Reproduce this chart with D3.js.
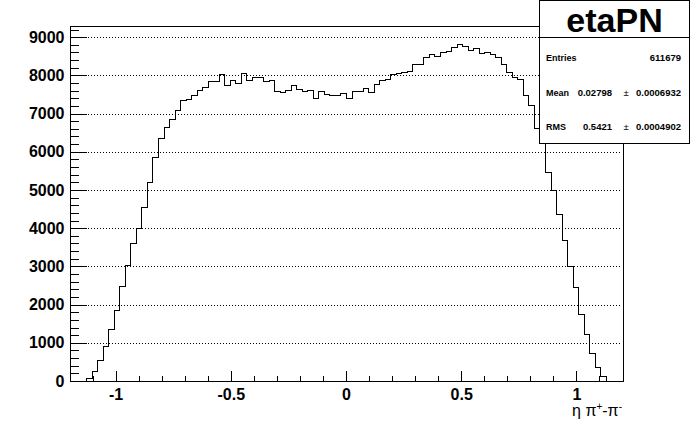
<!DOCTYPE html>
<html><head><meta charset="utf-8">
<script src="https://cdn.jsdelivr.net/npm/d3@7"></script>
<style>
html,body{margin:0;padding:0;background:#fff;}
svg{display:block;font-family:"Liberation Sans",Arial,Helvetica,sans-serif;}
</style></head>
<body>
<svg id="c" width="692" height="444"></svg>
<script>
// ---- data ----
const xMin = -1.2, xMax = 1.2, nBins = 100;
const counts = [
  0,0,0,80,262,550,916,1361,1850,2487,
  3037,3613,4005,4546,5209,5873,6370,6649,6867,7103,
  7350,7377,7482,7614,7693,7851,7851,8035,7754,7877,
  7798,8061,7877,7956,7956,7851,7877,7588,7561,7614,
  7754,7640,7588,7614,7404,7588,7518,7482,7482,7535,
  7404,7588,7588,7667,7561,7772,7877,7904,8035,8061,
  8088,8114,8298,8298,8482,8561,8509,8614,8640,8746,
  8825,8781,8667,8719,8588,8614,8561,8482,8300,8100,
  7958,7906,7478,7234,6620,6300,5471,5000,4380,3682,
  3002,2452,1754,1230,742,358,118,0,0,0
];
const yMajorTicks = [0,1000,2000,3000,4000,5000,6000,7000,8000,9000];
const xMajorTicks = [-1,-0.5,0,0.5,1];
const xTickLabels = ["-1","-0.5","0","0.5","1"];
const statsTitle = "etaPN";
const statsLabels = ["Entries","Mean","RMS"];
const statsValues = ["611679","0.02798","0.5421"];
const statsErrors = ["","0.0006932","0.0004902"];

// ---- chart ----
const svg = d3.select("#c");
svg.append("rect").attr("width",692).attr("height",444).attr("fill","#fff");

const x = d3.scaleLinear().domain([xMin,xMax]).range([69.5,622.5]);
const y = d3.scaleLinear().domain([0,9300]).range([381,25.7]);
const bw = (xMax-xMin)/nBins;

// grid
svg.append("g").selectAll("line").data(yMajorTicks.slice(1)).join("line")
  .attr("x1",70).attr("x2",622)
  .attr("y1",d=>Math.round(y(d))+0.5).attr("y2",d=>Math.round(y(d))+0.5)
  .attr("stroke","#000").attr("stroke-width",1).attr("stroke-dasharray","1,2")
  .attr("shape-rendering","crispEdges");

// histogram step path
let pts = [[xMin,0]];
counts.forEach((c,i)=>{ const a=xMin+i*bw, b=a+bw; pts.push([a,c],[b,c]); });
pts.push([xMax,0]);
const line = d3.line().x(d=>Math.round(x(d[0]))+0.5).y(d=>Math.round(y(d[1]))+0.5);
svg.append("path").attr("d",line(pts)).attr("fill","none")
  .attr("stroke","#000").attr("stroke-width",1).attr("shape-rendering","crispEdges");

// frame
svg.append("rect").attr("x",Math.round(x(xMin))+0.5).attr("y",Math.round(y(9300))+0.5)
  .attr("width",Math.round(x(xMax))-Math.round(x(xMin)))
  .attr("height",Math.round(y(0))-Math.round(y(9300)))
  .attr("fill","none").attr("stroke","#000").attr("shape-rendering","crispEdges");

// y axis
const yMinor = d3.range(0,9300,200).filter(v=>v%1000!==0);
const yAx = svg.append("g").attr("transform",`translate(${Math.round(x(xMin))+0.5},0)`);
yAx.call(d3.axisLeft(y).tickValues(yMinor).tickSize(-8.3).tickSizeOuter(0).tickFormat(""));
yAx.append("g").call(d3.axisLeft(y).tickValues(yMajorTicks).tickSize(-16.6).tickSizeOuter(0).tickPadding(6).tickFormat(d3.format("d")));
yAx.selectAll(".domain").remove();
yAx.selectAll("line").attr("shape-rendering","crispEdges");
yAx.selectAll("text").attr("font-size",16).attr("font-weight","bold").attr("font-family","Liberation Sans, Arial, sans-serif").attr("fill","#000");

// x axis
const xMinor = d3.range(-11,12).map(v=>v/10).filter(v=>Math.abs(v*2-Math.round(v*2))>1e-9);
const xAx = svg.append("g").attr("transform",`translate(0,${Math.round(y(0))+0.5})`);
xAx.call(d3.axisBottom(x).tickValues(xMinor).tickSize(-5.5).tickSizeOuter(0).tickFormat(""));
xAx.append("g").call(d3.axisBottom(x).tickValues(xMajorTicks).tickSize(-11).tickSizeOuter(0).tickPadding(7).tickFormat((d,i)=>xTickLabels[i]));
xAx.selectAll(".domain").remove();
xAx.selectAll("line").attr("shape-rendering","crispEdges");
xAx.selectAll("text").attr("font-size",16).attr("font-weight","bold").attr("font-family","Liberation Sans, Arial, sans-serif").attr("fill","#000");

// x axis title
const t = svg.append("text").attr("x",622).attr("y",416).attr("text-anchor","end")
  .attr("font-size",16).attr("fill","#000");
t.append("tspan").text("\u03b7 \u03c0");
t.append("tspan").attr("dy",-6).attr("font-size",10).text("+");
t.append("tspan").attr("dy",6).text("-\u03c0");
t.append("tspan").attr("dy",-6).attr("font-size",10).text("-");

// stats box
const sb = svg.append("g");
sb.append("rect").attr("x",539.5).attr("y",0.5).attr("width",150).attr("height",143)
  .attr("fill","#fff").attr("stroke","#000").attr("shape-rendering","crispEdges");
sb.append("line").attr("x1",539.5).attr("x2",689.5).attr("y1",37.5).attr("y2",37.5)
  .attr("stroke","#000").attr("shape-rendering","crispEdges");
sb.append("text").attr("x",614.5).attr("y",32).attr("text-anchor","middle")
  .attr("font-size",34).attr("font-weight","bold").text(statsTitle);
const rowsY = [61,95.5,130];
statsLabels.forEach((l,i)=>{
  sb.append("text").attr("x",546).attr("y",rowsY[i]).attr("font-size",9).attr("font-weight","bold").text(l);
  if (statsErrors[i]) {
    sb.append("text").attr("x",612).attr("y",rowsY[i]).attr("text-anchor","end").attr("font-size",9.5).attr("font-weight","bold").text(statsValues[i]);
    sb.append("text").attr("x",626).attr("y",rowsY[i]).attr("text-anchor","middle").attr("font-size",9.5).text("\u00b1");
    sb.append("text").attr("x",681).attr("y",rowsY[i]).attr("text-anchor","end").attr("font-size",9.5).attr("font-weight","bold").text(statsErrors[i]);
  } else {
    sb.append("text").attr("x",681).attr("y",rowsY[i]).attr("text-anchor","end").attr("font-size",9.5).attr("font-weight","bold").text(statsValues[i]);
  }
});
</script>
</body></html>
